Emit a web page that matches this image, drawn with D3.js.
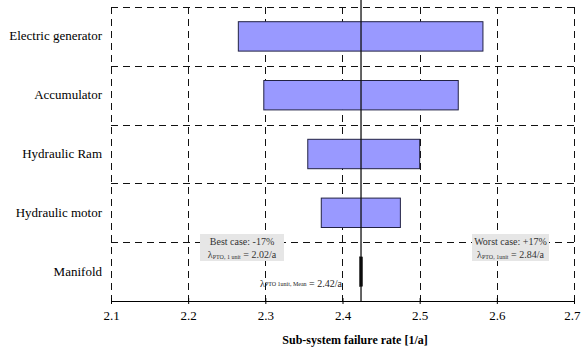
<!DOCTYPE html>
<html><head><meta charset="utf-8">
<script src="https://cdn.jsdelivr.net/npm/d3@7"></script>
<style>body{margin:0;background:#fff}svg{display:block}svg text{font-family:"Liberation Serif","Times New Roman",serif !important}</style>
</head><body>
<svg id="c" width="581" height="352"></svg>
<script>
const categories = ["Electric generator","Accumulator","Hydraulic Ram","Hydraulic motor","Manifold"];
const lowValues  = [2.265, 2.298, 2.355, 2.3725, 2.4222];
const highValues = [2.582, 2.550, 2.500, 2.475, 2.4258];
const meanValue = 2.424;
const xTicks = [2.1,2.2,2.3,2.4,2.5,2.6,2.7];
const xTickLabels = ["2.1","2.2","2.3","2.4","2.5","2.6","2.7"];

const svg = d3.select("#c");
const font = "Liberation Serif";
const L=111, R=574, T=7, B=301;
const x = d3.scaleLinear().domain([2.1,2.7]).range([L,R]);
const y = d3.scaleBand().domain(categories).range([T,B]).paddingInner(0).paddingOuter(0);

const g = svg.append("g");
categories.forEach(c=>{
  g.append("line").attr("x1",L).attr("x2",R).attr("y1",Math.round(y(c))+0.5).attr("y2",Math.round(y(c))+0.5)
   .attr("stroke","#111").attr("stroke-width",1).attr("stroke-dasharray","7,5");
});
xTicks.forEach(t=>{
  g.append("line").attr("x1",Math.round(x(t))+0.5).attr("x2",Math.round(x(t))+0.5).attr("y1",T).attr("y2",B)
   .attr("stroke","#111").attr("stroke-width",1).attr("stroke-dasharray","7,5");
});

const bh = y.bandwidth()*0.5;
svg.selectAll("rect.bar").data(categories).enter().append("rect")
  .attr("x",(d,i)=>x(lowValues[i]))
  .attr("width",(d,i)=>x(highValues[i])-x(lowValues[i]))
  .attr("y",d=>y(d)+(y.bandwidth()-bh)/2)
  .attr("height",bh)
  .attr("fill",(d,i)=>i===4?"#000":"#9999ff")
  .attr("stroke",(d,i)=>i===4?"#000":"#222244")
  .attr("stroke-width",(d,i)=>i===4?0.5:1);

svg.append("line").attr("x1",x(meanValue)).attr("x2",x(meanValue)).attr("y1",0).attr("y2",B)
  .attr("stroke","#111").attr("stroke-width",1.3);

const ax = svg.append("g").attr("transform",`translate(0,${B})`)
  .call(d3.axisBottom(x).tickValues(xTicks).tickFormat((d,i)=>xTickLabels[i]).tickSize(3).tickSizeOuter(0).tickPadding(7));
ax.attr("font-family",font);
ax.select(".domain").attr("stroke","#000").attr("stroke-width",1.2);
ax.selectAll(".tick line").attr("y1",-3).attr("stroke","#000");
ax.selectAll("text").attr("font-size",13).attr("fill","#000");
ax.selectAll(".tick").filter(d=>d===2.7).select("text").attr("text-anchor","end").attr("x",6);

svg.selectAll("text.cat").data(categories).enter().append("text")
  .attr("x",102).attr("y",d=>y(d)+y.bandwidth()/2+4)
  .attr("text-anchor","end").attr("font-size",13).attr("fill","#000")
  .text(d=>d);

svg.append("text").attr("x",355).attr("y",344).attr("text-anchor","middle")
  .attr("font-size",12).attr("font-weight","bold").text("Sub-system failure rate [1/a]");

function box(x0,y0,w,h,line1,sub,val){
  svg.append("rect").attr("x",x0).attr("y",y0).attr("width",w).attr("height",h).attr("fill","#e6e6e6");
  svg.append("text").attr("x",x0+w/2).attr("y",y0+11).attr("text-anchor","middle")
    .attr("font-size",10).attr("fill","#333").text(line1);
  const t = svg.append("text").attr("x",x0+w/2).attr("y",y0+24).attr("text-anchor","middle")
    .attr("font-size",10).attr("fill","#333");
  t.append("tspan").text("λ");
  t.append("tspan").attr("font-size",6).attr("dy",1).text(sub);
  t.append("tspan").attr("dy",-1).text(" = "+val);
}
box(200,234,84,27,"Best case: -17%","PTO, 1 unit","2.02/a");
box(472,234,77,27,"Worst case: +17%","PTO, 1unit","2.84/a");

const ml = svg.append("text").attr("x",301).attr("y",287).attr("text-anchor","middle")
  .attr("font-size",10).attr("fill","#222");
ml.append("tspan").text("λ");
ml.append("tspan").attr("font-size",6).attr("dy",-1).text("PTO 1unit, Mean");
ml.append("tspan").attr("dy",1).text(" = 2.42/a");
</script>
</body></html>
